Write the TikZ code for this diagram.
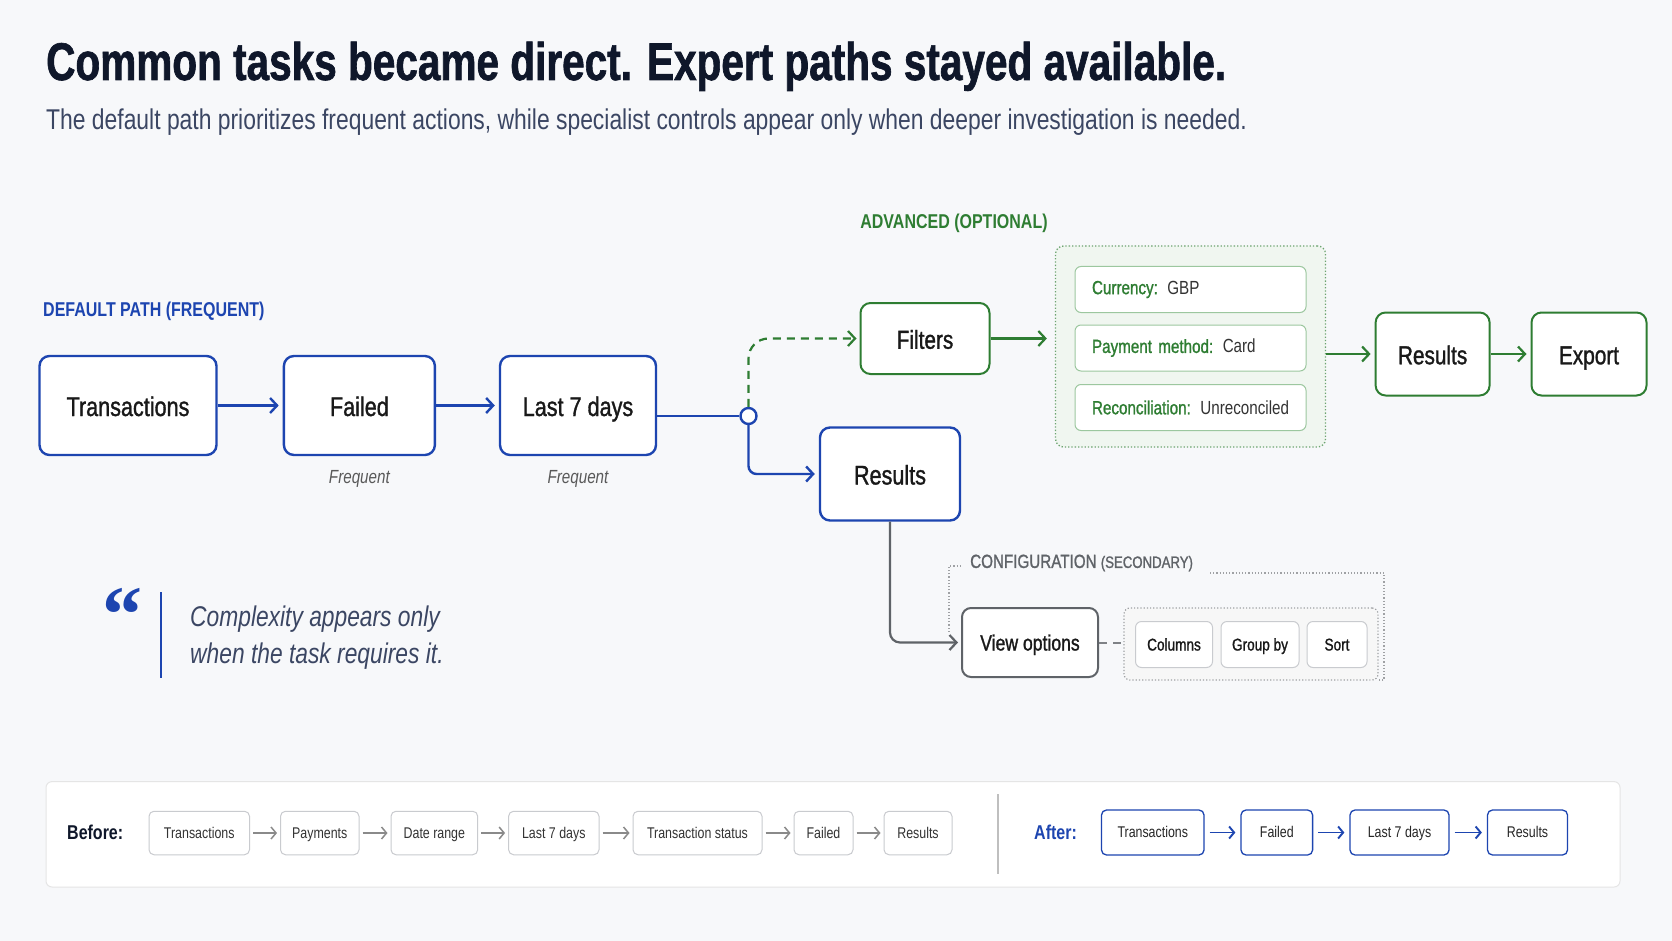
\documentclass[tikz,border=0pt]{standalone}
\usepackage{fontspec}
\setmainfont{Liberation Sans}[FakeStretch=0.8]
\newfontfamily\titlefont{Liberation Sans}[FakeStretch=0.765, FakeBold=1.2]
\newfontfamily\medfont{Liberation Sans}[FakeStretch=0.8, FakeBold=1.2]
\newfontfamily\quotefont{Liberation Serif}
\usepackage{xcolor}
\usepackage{tikz}
\usetikzlibrary{arrows.meta, positioning, calc}

\definecolor{bgpage}{HTML}{F7F8FA}
\definecolor{inkdark}{HTML}{0F172A}
\definecolor{inksub}{HTML}{3B4663}
\definecolor{pathblue}{HTML}{1D45B0}
\definecolor{advgreen}{HTML}{2E7D32}
\definecolor{advfill}{HTML}{F0F6F0}
\definecolor{optline}{HTML}{9CC79F}
\definecolor{cfggray}{HTML}{5F6368}
\definecolor{linegray}{HTML}{8A8A8A}
\definecolor{boxgray}{HTML}{C9CBCF}

\tikzset{
  mainbox/.style={draw=pathblue, line width=2.4pt, rounded corners=10pt, fill=white,
    inner sep=0pt, text=black!90, text height=22.5pt, text depth=1.5pt,
    font=\medfont\fontsize{27pt}{32pt}\selectfont},
  greenbox/.style={draw=advgreen, line width=2pt, rounded corners=10pt, fill=white,
    inner sep=0pt, text=black!90, text height=22pt, text depth=1.5pt,
    font=\medfont\fontsize{26pt}{31pt}\selectfont},
  optbox/.style={draw=optline, line width=1pt, rounded corners=6pt, fill=white,
    minimum width=231, minimum height=46, inner xsep=17pt, text width=197pt,
    align=left, font=\fontsize{19pt}{23pt}\selectfont},
  cfgitem/.style={draw=boxgray, line width=1pt, rounded corners=6pt, fill=white,
    minimum height=46, inner sep=0pt, text=black!90, text height=14pt, text depth=2pt,
    font=\medfont\fontsize{17pt}{20pt}\selectfont},
  beforebox/.style={draw=boxgray, line width=1pt, rounded corners=5pt, fill=white,
    minimum height=43.5, inner sep=0pt, text=black!80, text height=13pt, text depth=3pt,
    font=\fontsize{15.5pt}{18pt}\selectfont},
  afterbox/.style={draw=pathblue, line width=1.3pt, rounded corners=5pt, fill=white,
    minimum height=45, inner sep=0pt, text=black!85, text height=13pt, text depth=3pt,
    font=\fontsize{15.5pt}{18pt}\selectfont},
  bluearrow/.style={pathblue, line width=2.4pt, -{Straight Barb[length=7pt, width=15pt]}},
  greenarrow/.style={advgreen, line width=2.2pt, -{Straight Barb[length=7pt, width=15pt]}},
  grayarrow/.style={linegray, line width=1.5pt, -{Straight Barb[length=5pt, width=12pt]}},
  smallblue/.style={pathblue, line width=1.9pt, -{Straight Barb[length=5pt, width=12pt]}},
  caps/.style={font=\bfseries\fontsize{20pt}{24pt}\selectfont},
}

\begin{document}
\begin{tikzpicture}[x=1pt, y=-1pt]
  % Page
  \fill[bgpage] (0,0) rectangle (1672,941);
  \useasboundingbox (0,0) rectangle (1672,941);

  % Title and subtitle
  \node[anchor=base west, inner sep=0pt, text=inkdark,
    font=\titlefont\bfseries\fontsize{53pt}{60pt}\selectfont] (title) at (46,80)
    {Common tasks became direct. Expert paths stayed available.};
  \node[anchor=base west, inner sep=0pt, text=inksub,
    font=\fontsize{28.6pt}{33pt}\selectfont] (subtitle) at (46,130)
    {The default path prioritizes frequent actions, while specialist controls appear only when deeper investigation is needed.};

  % Default path
  \node[caps, text=pathblue, anchor=west, inner sep=0pt] (deflbl) at (43,311)
    {DEFAULT PATH (FREQUENT)};
  \node[mainbox, minimum width=177, minimum height=99] (trans) at (128,405.5) {Transactions};
  \node[mainbox, minimum width=151, minimum height=99] (failed) at (359.4,405.5) {Failed};
  \node[mainbox, minimum width=156, minimum height=99] (last7) at (578,405.5) {Last 7 days};
  \node[font=\itshape\fontsize{19pt}{23pt}\selectfont, text=black!65] (freqa) at (359.4,479) {Frequent};
  \node[font=\itshape\fontsize{19pt}{23pt}\selectfont, text=black!65] (freqb) at (578,479) {Frequent};
  \draw[bluearrow, shorten >=4pt] (trans) -- (failed);
  \draw[bluearrow, shorten >=4pt] (failed) -- (last7);

  % Branch point
  \node[circle, draw=pathblue, line width=2.4pt, fill=white, minimum size=16, inner sep=0pt]
    (junc) at (748.5,416) {};
  \draw[pathblue, line width=2.4pt] (last7.east |- junc) -- (junc.west);
  \node[mainbox, minimum width=140, minimum height=93] (resb) at (890,474) {Results};
  \draw[bluearrow, rounded corners=8pt, shorten >=4pt] (junc.south) |- (resb.west);

  % Advanced (optional)
  \node[caps, text=advgreen, inner sep=0pt] (advlbl) at (954,223) {ADVANCED (OPTIONAL)};
  \node[greenbox, minimum width=129, minimum height=71] (filt) at (925,338.5) {Filters};
  \draw[greenarrow, dashed, dash pattern=on 8pt off 6pt, rounded corners=20pt, shorten >=3pt]
    (junc.north) |- (filt.west);
  \node[draw=advgreen!70, dotted, line width=1.3pt, rounded corners=8pt, fill=advfill,
    minimum width=270, minimum height=201] (advbox) at (1190.5,346.5) {};
  \node[optbox] (optcur) at (1190.5,289.5)
    {\textcolor{advgreen}{\medfont Currency:}\enspace\textcolor{black!80}{GBP}};
  \node[optbox] (optpay) at (1190.5,348)
    {\textcolor{advgreen}{\medfont Payment method:}\enspace\textcolor{black!80}{Card}};
  \node[optbox] (optrec) at (1190.5,407.5)
    {\textcolor{advgreen}{\medfont Reconciliation:}\enspace\textcolor{black!80}{Unreconciled}};
  \draw[greenarrow, shorten >=8pt] (filt.east) -- (filt.east -| advbox.west);
  \node[greenbox, minimum width=114, minimum height=83] (resg) at (1432.6,354) {Results};
  \node[greenbox, minimum width=115, minimum height=83] (expo) at (1589,354) {Export};
  \draw[greenarrow, shorten >=4pt] (advbox.east |- resg) -- (resg.west);
  \draw[greenarrow, shorten >=4pt] (resg) -- (expo);

  % Configuration (secondary)
  \node[anchor=west, inner sep=0pt, text=cfggray] (cfglbl) at (970,563)
    {\medfont\fontsize{19pt}{22pt}\selectfont CONFIGURATION \fontsize{16.5pt}{22pt}\selectfont(SECONDARY)};
  \draw[cfggray!60, dotted, line width=1.2pt] (949,632) -- (949,566) -- (962,566);
  \draw[cfggray!60, dotted, line width=1.2pt] (1210,573) -- (1384,573) -- (1384,680) -- (1378,680);
  \node[draw=cfggray, line width=2pt, rounded corners=9pt, fill=white, inner sep=0pt,
    minimum width=136, minimum height=69, text=black!90, text height=18pt, text depth=2pt,
    font=\medfont\fontsize{22pt}{26pt}\selectfont] (viewopt) at (1030,642.5) {View options};
  \draw[cfggray, line width=2.2pt, rounded corners=10pt,
    -{Straight Barb[length=7pt, width=15pt]}, shorten >=3pt] (resb.south) |- (viewopt.west);
  \node[draw=cfggray!60, dotted, line width=1.2pt, rounded corners=6pt, fill=black!3,
    minimum width=254, minimum height=72] (cfgbox) at (1251,644) {};
  \draw[cfggray!80, line width=2pt, dashed, dash pattern=on 8pt off 6pt]
    (viewopt.east) -- (viewopt.east -| cfgbox.west);
  \node[cfgitem, minimum width=77] (cols) at (1174,644.5) {Columns};
  \node[cfgitem, minimum width=78] (grp) at (1260,644.5) {Group by};
  \node[cfgitem, minimum width=60] (sortb) at (1337,644.5) {Sort};

  % Quote
  \node[text=pathblue, font=\quotefont\bfseries\fontsize{80pt}{86pt}\selectfont, inner sep=0pt]
    (qmark) at (122,615) {“};
  \draw[pathblue, line width=1.6pt] (161,592) -- (161,678);
  \node[anchor=west, align=left, inner sep=0pt, text=inksub,
    font=\itshape\fontsize{28.5pt}{37pt}\selectfont] (qtext) at (190,638)
    {Complexity appears only\\when the task requires it.};

  % Before / after strip
  \draw[black!10, line width=1pt, rounded corners=6pt, fill=white] (46,781.6) rectangle (1620,887);
  \draw[black!25, line width=1.2pt] (998,794) -- (998,874);
  \node[caps, anchor=west, inner sep=0pt, text=inkdark] (beforelbl) at (67,832) {Before:};
  \foreach \i/\xc/\bw/\lbl in {
    1/199.25/100.5/Transactions,
    2/319.75/78.5/Payments,
    3/434.35/86.7/Date range,
    4/553.8/90.4/Last 7 days,
    5/697.5/129/Transaction status,
    6/823.5/59/Failed,
    7/918/68/Results
  }{
    \node[beforebox, minimum width=\bw] (bf\i) at (\xc,833) {\lbl};
    \ifnum\i>1
      \pgfmathtruncatemacro\prv{\i-1}
      \draw[grayarrow, shorten <=3pt, shorten >=3pt] (bf\prv) -- (bf\i);
    \fi
  }
  \node[caps, anchor=west, inner sep=0pt, text=pathblue] (afterlbl) at (1034,832) {After:};
  \foreach \i/\xc/\bw/\lbl in {
    1/1152.75/102.5/Transactions,
    2/1276.8/71.6/Failed,
    3/1399.5/99/Last 7 days,
    4/1527.5/80/Results
  }{
    \node[afterbox, minimum width=\bw] (af\i) at (\xc,832.5) {\lbl};
    \ifnum\i>1
      \pgfmathtruncatemacro\prv{\i-1}
      \draw[smallblue, shorten <=5pt, shorten >=5pt] (af\prv) -- (af\i);
    \fi
  }
\end{tikzpicture}
\end{document}
